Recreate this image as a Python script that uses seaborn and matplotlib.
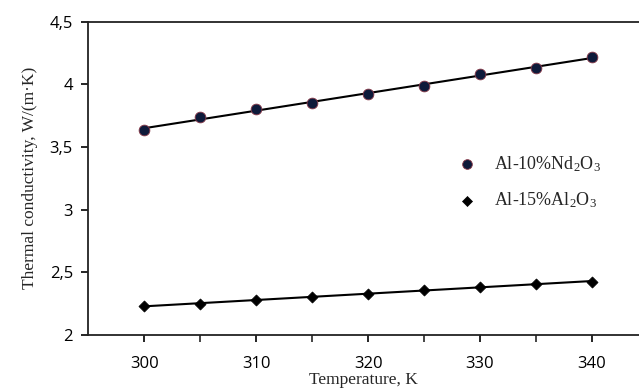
import numpy as np
import pandas as pd
import matplotlib
matplotlib.use("Agg")
import matplotlib.pyplot as plt
import seaborn as sns
from matplotlib.ticker import FuncFormatter

# data
temperature = [300, 305, 310, 315, 320, 325, 330, 335, 340]
nd2o3 = [3.64, 3.74, 3.80, 3.85, 3.92, 3.99, 4.08, 4.135, 4.22]
al2o3 = [2.232, 2.245, 2.28, 2.306, 2.325, 2.36, 2.386, 2.407, 2.423]
labels = ["Al-10%Nd$_2$O$_3$", "Al-15%Al$_2$O$_3$"]

sns.set_style("ticks")
plt.rcParams["font.family"] = ["Open Sans", "DejaVu Sans"]
plt.rcParams["mathtext.fontset"] = "custom"
plt.rcParams["mathtext.rm"] = "Liberation Serif"
plt.rcParams["mathtext.it"] = "Liberation Serif:italic"

df = pd.DataFrame({"T": temperature, "nd": nd2o3, "al": al2o3})

fig = plt.figure(figsize=(6.39, 3.89), dpi=100)
ax = fig.add_axes([0.138, 0.139, 0.862, 0.805])

# linear trend lines
for col in ["nd", "al"]:
    k, b = np.polyfit(df["T"], df[col], 1)
    sns.lineplot(x=df["T"], y=k * df["T"] + b, color="black", lw=1.5, ax=ax)

sns.scatterplot(data=df, x="T", y="nd", marker="o", s=60, color="#0e1a3a",
                edgecolor="#8a3a4a", linewidth=0.6, ax=ax, label=labels[0], zorder=3)
sns.scatterplot(data=df, x="T", y="al", marker="D", s=32, color="black",
                edgecolor="black", linewidth=0.5, ax=ax, label=labels[1], zorder=3)

ax.set_xlim(295, 344.2)
ax.set_ylim(2, 4.5)
ax.set_xticks([300, 310, 320, 330, 340])
ax.set_xticks([305, 315, 325, 335], minor=True)
ax.set_yticks([2, 2.5, 3, 3.5, 4, 4.5])
ax.yaxis.set_major_formatter(FuncFormatter(lambda v, p: f"{v:g}".replace(".", ",")))
ax.tick_params(axis="both", labelsize=12, colors="black", width=1.2, length=5)
ax.tick_params(axis="x", which="minor", width=1.2, length=5)
ax.tick_params(axis="x", pad=10)
ax.tick_params(axis="y", pad=6)

for s in ["left", "bottom", "top"]:
    ax.spines[s].set_linewidth(1.3)
    ax.spines[s].set_color("#222222")
ax.spines["right"].set_visible(False)

ax.set_xlabel("Temperature, K", family="Liberation Serif", fontsize=12.5, labelpad=0)
ax.set_ylabel("Thermal conductivity, W/(m·K)", family="Liberation Serif", fontsize=12.5, labelpad=8)

ax.legend(loc="upper left", bbox_to_anchor=(0.638, 0.607), frameon=False,
          prop={"family": "Liberation Serif", "size": 13}, handletextpad=0.5,
          labelspacing=0.95, borderpad=0, markerscale=0.9)

fig.savefig("out.png", dpi=100)
